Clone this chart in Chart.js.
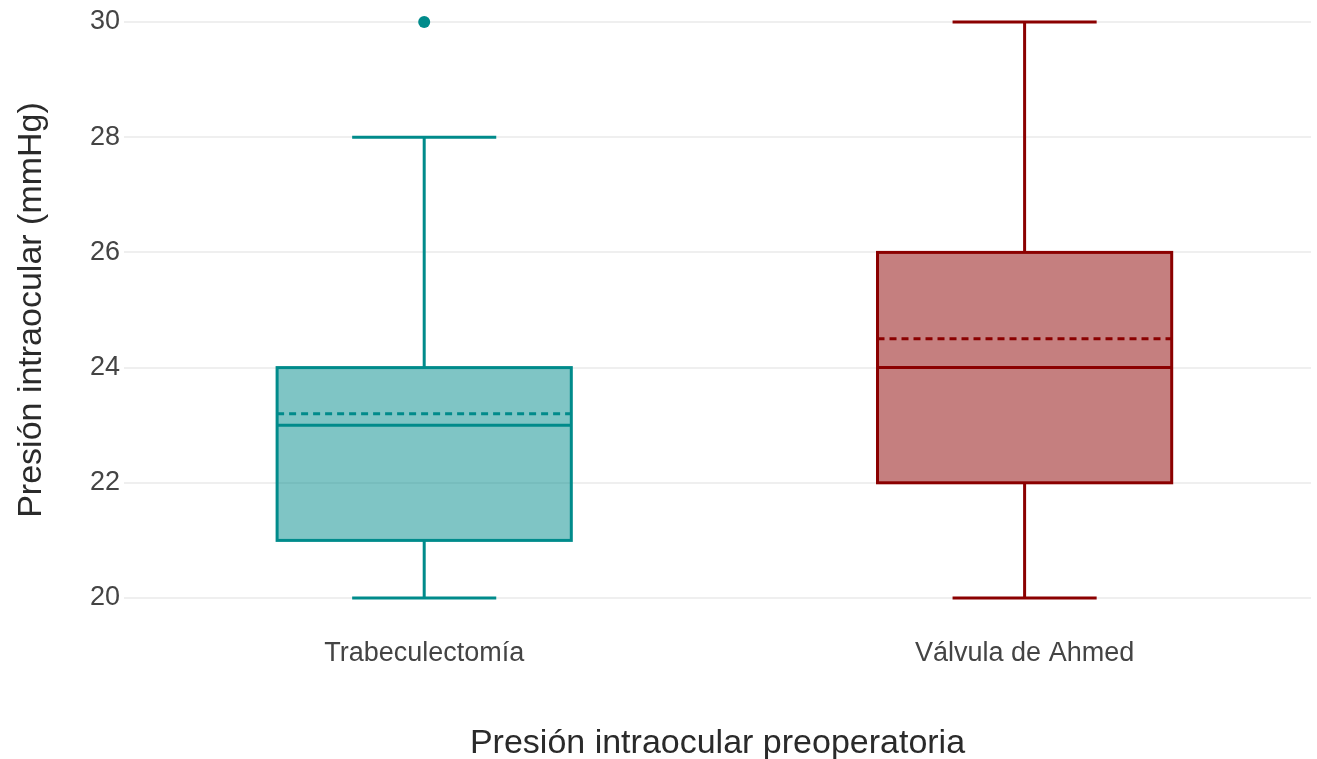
<!DOCTYPE html>
<html lang="es">
<head>
    <meta charset="UTF-8">
    <title>Presión intraocular preoperatoria</title>
    <script src="https://cdn.jsdelivr.net/npm/chart.js"></script>
    <style>
        html, body {
            margin: 0;
            padding: 0;
            background: #ffffff;
        }
        #wrap {
            width: 1317px;
            height: 759px;
            position: relative;
        }
    </style>
</head>
<body>
    <div id="wrap"><canvas id="chart"></canvas></div>
    <script>
        // values
        const categories = ['Trabeculectomía', 'Válvula de Ahmed'];
        const minValues = [20, 20];
        const q1Values = [21, 22];
        const medianValues = [23, 24];
        const q3Values = [24, 26];
        const maxValues = [28, 30];
        const meanValues = [23.2, 24.5];
        const outlierValues = [[30], []];
        const yTicks = [20, 22, 24, 26, 28, 30];

        const lineColors = ['#008b8b', '#8b0000'];
        const fillColors = ['rgba(0, 139, 139, 0.5)', 'rgba(139, 0, 0, 0.5)'];
        const fontFamily = "'Liberation Sans', Arial, sans-serif";

        const boxWidth = 0.49;   // in x units
        const capWidth = 0.24;

        // box, whiskers, median and mean drawn with the chart's own scales
        const boxPlugin = {
            id: 'boxPlot',
            beforeDatasetsDraw(chart) {
                const ctx = chart.ctx;
                const xs = chart.scales.x;
                const ys = chart.scales.y;
                categories.forEach((cat, i) => {
                    const left = xs.getPixelForValue(i - boxWidth / 2);
                    const right = xs.getPixelForValue(i + boxWidth / 2);
                    const capL = xs.getPixelForValue(i - capWidth / 2);
                    const capR = xs.getPixelForValue(i + capWidth / 2);
                    const cx = xs.getPixelForValue(i);
                    const yMin = ys.getPixelForValue(minValues[i]);
                    const yQ1 = ys.getPixelForValue(q1Values[i]);
                    const yMed = ys.getPixelForValue(medianValues[i]);
                    const yQ3 = ys.getPixelForValue(q3Values[i]);
                    const yMax = ys.getPixelForValue(maxValues[i]);
                    const yMean = ys.getPixelForValue(meanValues[i]);

                    ctx.save();
                    ctx.strokeStyle = lineColors[i];
                    ctx.lineWidth = 3;

                    // whiskers + caps
                    ctx.beginPath();
                    ctx.moveTo(cx, yQ3); ctx.lineTo(cx, yMax);
                    ctx.moveTo(cx, yQ1); ctx.lineTo(cx, yMin);
                    ctx.moveTo(capL, yMax); ctx.lineTo(capR, yMax);
                    ctx.moveTo(capL, yMin); ctx.lineTo(capR, yMin);
                    ctx.stroke();

                    // box
                    ctx.fillStyle = fillColors[i];
                    ctx.fillRect(left, yQ3, right - left, yQ1 - yQ3);
                    ctx.strokeRect(left, yQ3, right - left, yQ1 - yQ3);

                    // median
                    ctx.beginPath();
                    ctx.moveTo(left, yMed); ctx.lineTo(right, yMed);
                    ctx.stroke();

                    // mean (dashed)
                    ctx.setLineDash([7, 5]);
                    ctx.beginPath();
                    ctx.moveTo(left, yMean); ctx.lineTo(right, yMean);
                    ctx.stroke();
                    ctx.restore();
                });
            }
        };

        const outlierPoints = [];
        const outlierColors = [];
        outlierValues.forEach((vals, i) => {
            vals.forEach(v => {
                outlierPoints.push({ x: i, y: v });
                outlierColors.push(lineColors[i]);
            });
        });

        new Chart(document.getElementById('chart'), {
            type: 'scatter',
            data: {
                datasets: [{
                    label: 'outliers',
                    data: outlierPoints,
                    backgroundColor: outlierColors,
                    borderWidth: 0,
                    pointRadius: 6,
                    clip: false
                }]
            },
            options: {
                responsive: true,
                maintainAspectRatio: false,
                animation: false,
                layout: { padding: { top: 22, right: 0, bottom: 0, left: 0 } },
                plugins: {
                    legend: { display: false },
                    tooltip: { enabled: false }
                },
                scales: {
                    x: {
                        type: 'linear',
                        min: -0.5,
                        max: 1.477,
                        grid: { display: false },
                        border: { display: false },
                        afterBuildTicks: scale => {
                            scale.ticks = categories.map((c, i) => ({ value: i }));
                        },
                        afterFit: scale => {
                            scale.height = 161;
                            scale.paddingLeft = 0;
                            scale.paddingRight = 0;
                        },
                        ticks: {
                            padding: 31,
                            color: '#444444',
                            font: { family: fontFamily, size: 27 },
                            maxRotation: 0,
                            autoSkip: false,
                            callback: value => categories[value]
                        },
                        title: {
                            display: true,
                            text: 'Presión intraocular preoperatoria',
                            color: '#2a2a2a',
                            padding: { top: 0, bottom: 0 },
                            font: { family: fontFamily, size: 34, lineHeight: 0.92 }
                        }
                    },
                    y: {
                        min: 20,
                        max: 30,
                        afterBuildTicks: scale => {
                            scale.ticks = yTicks.map(v => ({ value: v }));
                        },
                        afterFit: scale => { scale.width = 124; },
                        grid: { color: '#efefef', lineWidth: 2, drawTicks: false },
                        border: { display: false },
                        ticks: {
                            padding: 4,
                            color: '#444444',
                            font: { family: fontFamily, size: 27 }
                        },
                        title: {
                            display: true,
                            text: 'Presión intraocular (mmHg)',
                            color: '#2a2a2a',
                            padding: { top: 15, bottom: 0 },
                            font: { family: fontFamily, size: 34, lineHeight: 1 }
                        }
                    }
                }
            },
            plugins: [boxPlugin]
        });
    </script>
</body>
</html>
